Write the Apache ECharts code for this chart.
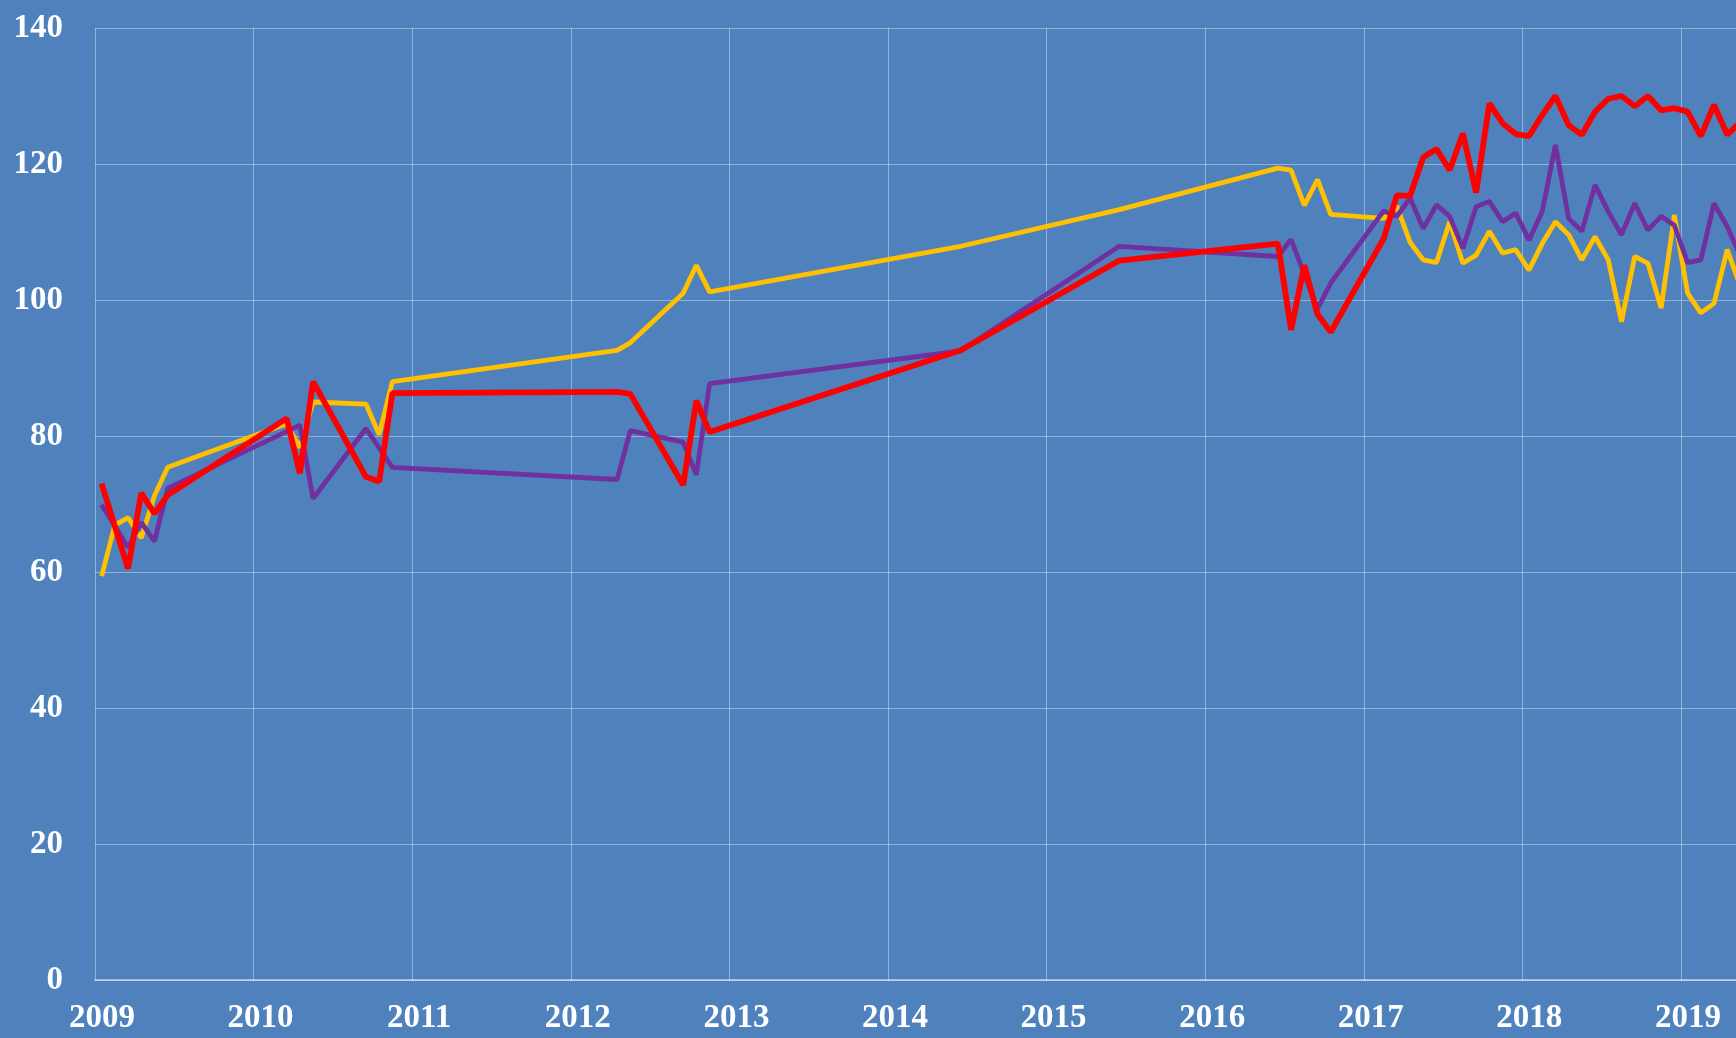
<!DOCTYPE html>
<html>
<head>
<meta charset="utf-8">
<script src="https://cdn.jsdelivr.net/npm/echarts@6/dist/echarts.min.js"></script>
<style>
    html, body { margin: 0; padding: 0; background: #4F81BD; }
    #chart { width: 1736px; height: 1038px; }
</style>
</head>
<body>
<div id="chart"></div>
<script>
// 月份 (null = 该序列在该月没有数据点)
let months = [
    '2009-01', '2009-02', '2009-03', '2009-04', '2009-05', '2009-06',
    '2010-03', '2010-04', '2010-05', '2010-09', '2010-10', '2010-11',
    '2012-04', '2012-05', '2012-09', '2012-10', '2012-11',
    '2014-06', '2015-06',
    '2016-06', '2016-07', '2016-08', '2016-09', '2016-10',
    '2017-02', '2017-03', '2017-04', '2017-05', '2017-06', '2017-07',
    '2017-08', '2017-09', '2017-10', '2017-11', '2017-12',
    '2018-01', '2018-02', '2018-03', '2018-04', '2018-05', '2018-06',
    '2018-07', '2018-08', '2018-09', '2018-10', '2018-11', '2018-12',
    '2019-01', '2019-02', '2019-03', '2019-04', '2019-05'
]
let yellowValues = [
    59.4, 66.9, 68.0, 65.0, 71.2, 75.4,
    81.8, 78.3, 85.0, 84.7, 80.2, 88.0,
    92.6, 93.7, 101.0, 105.1, 101.2,
    107.9, 113.3,
    119.4, 119.1, 113.9, 117.7, 112.6,
    112.0, 113.8, 108.5, 105.9, 105.5, 111.5,
    105.4, 106.6, 110.1, 106.9, 107.4,
    104.4, 108.3, 111.5, 109.6, 105.9, 109.3,
    105.9, 96.8, 106.4, 105.4, 98.8, 112.5,
    101.0, 98.1, 99.5, 107.4, 102.0
]
let purpleValues = [
    69.9, null, 63.6, 67.3, 64.5, 72.3,
    null, 81.6, 70.8, 81.1, null, 75.4,
    73.6, 80.8, 79.1, 74.3, 87.7,
    92.5, 107.9,
    106.4, 108.9, null, 98.7, 102.5,
    113.1, 112.3, 115.0, 110.5, 114.0, 112.3,
    107.6, 113.7, 114.5, 111.5, 112.8,
    108.8, 113.0, 122.8, 112.0, 110.1, 116.9,
    113.0, 109.6, 114.2, 110.3, 112.3, 111.0,
    105.5, 105.9, 114.2, 110.8, 106.4
]
let redValues = [
    73.0, null, 60.5, 71.6, 68.6, 71.3,
    82.6, 74.5, 88.0, 74.0, 73.3, 86.3,
    86.5, 86.2, 72.8, 85.2, 80.6,
    92.6, 105.8,
    108.3, 95.6, 105.1, 97.9, 95.3,
    109.0, 115.4, 115.3, 121.0, 122.2, 119.1,
    124.5, 115.8, 128.9, 126.0, 124.4,
    124.1, 127.2, 130.0, 125.7, 124.3, 127.7,
    129.6, 130.0, 128.5, 130.0, 127.9, 128.2,
    127.7, 124.1, 128.7, 124.3, 126.2
]
let yearTicks = { min: 2009, max: 2019.347, interval: 1 }
let valueTicks = { min: 0, max: 140, interval: 20 }

// 'YYYY-MM' -> 小数年 (取月中)
function toYear (m) {
    let parts = m.split('-')
    return Number(parts[0]) + (Number(parts[1]) - 0.5) / 12
}

function buildSeries (values) {
    let list = []
    for (let i = 0, len = months.length; i < len; i++) {
        if (values[i] !== null) {
            list.push([toYear(months[i]), values[i]])
        }
    }
    return list
}

function drawChart () {
    let chart = echarts.init(document.getElementById('chart'), null, { renderer: 'canvas' })
    let labelFont = {
        color: '#ffffff',
        fontFamily: 'Liberation Serif',
        fontWeight: 'bold',
        fontSize: 33
    }
    let gridLine = { lineStyle: { color: 'rgba(255,255,255,0.38)', width: 1 } }
    let option = {
        animation: false,
        backgroundColor: '#4F81BD',
        grid: { left: 95, right: 0, top: 28, bottom: 58, containLabel: false },
        xAxis: {
            type: 'value',
            min: yearTicks.min,
            max: yearTicks.max,
            interval: yearTicks.interval,
            axisLine: { show: true, lineStyle: { color: 'rgba(255,255,255,0.45)', width: 2 } },
            axisTick: { show: false },
            splitLine: gridLine,
            axisLabel: Object.assign({
                margin: 22,
                padding: [0, 0, 0, 14],
                showMaxLabel: false,
                formatter: function (v) {
                    return Number.isInteger(v) ? String(v) : ''
                }
            }, labelFont)
        },
        yAxis: {
            type: 'value',
            min: valueTicks.min,
            max: valueTicks.max,
            interval: valueTicks.interval,
            axisLine: { show: false },
            axisTick: { show: false },
            splitLine: gridLine,
            axisLabel: Object.assign({ margin: 32 }, labelFont)
        },
        series: [
            {
                name: 'yellow',
                type: 'line',
                data: buildSeries(yellowValues),
                showSymbol: false,
                lineStyle: { color: '#FFC000', width: 4.8 },
                z: 2
            },
            {
                name: 'purple',
                type: 'line',
                data: buildSeries(purpleValues),
                showSymbol: false,
                lineStyle: { color: '#7030A0', width: 4.8 },
                z: 3
            },
            {
                name: 'red',
                type: 'line',
                data: buildSeries(redValues),
                showSymbol: false,
                lineStyle: { color: '#FF0000', width: 5.8 },
                z: 4
            }
        ]
    }
    chart.setOption(option)
}

drawChart()
</script>
</body>
</html>
